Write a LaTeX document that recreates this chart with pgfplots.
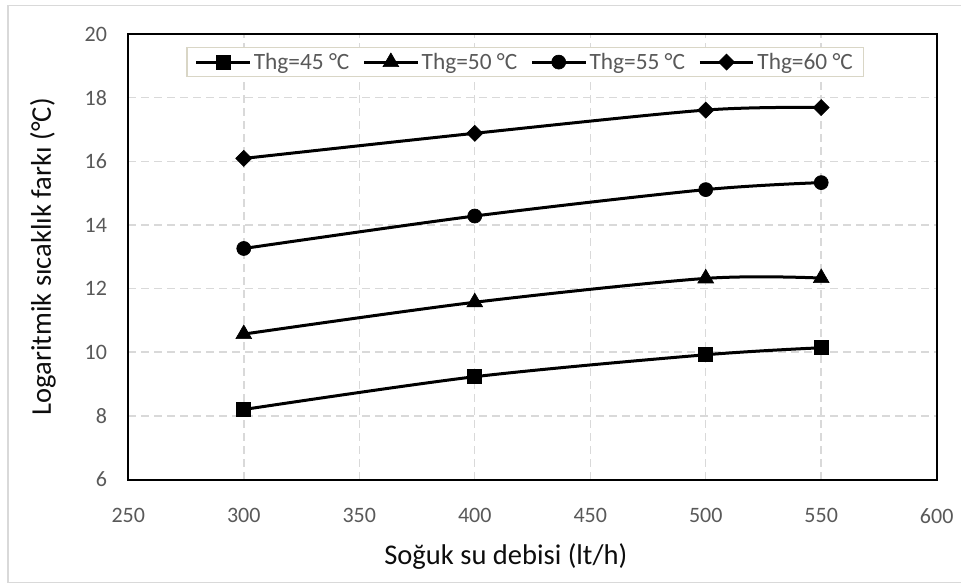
\documentclass[border=0pt]{standalone}
\usepackage{fontspec}
\setmainfont{Carlito}
\usepackage{pgfplots}
\pgfplotsset{compat=1.18}
\definecolor{tickgray}{HTML}{595959}
\definecolor{gridgray}{HTML}{D9D9D9}
\definecolor{legborder}{HTML}{D9D6C6}
\definecolor{labelcol}{HTML}{0D0D0D}
\pgfplotsset{
  legend image code/.code={\draw[mark repeat=2,mark phase=2,#1] plot coordinates {(0pt,0pt) (20pt,0pt) (40pt,0pt)};}
}
\begin{document}
\begin{tikzpicture}
\useasboundingbox (-96.225pt,-77.625pt) rectangle (624.525pt,359.625pt);
\begin{axis}[
  scale only axis,
  width=606.3pt, height=334.125pt,
  xmin=250, xmax=600, ymin=6, ymax=20,
  xtick={250,300,...,600},
  ytick={6,8,...,20},
  major tick length=0pt,
  grid=major,
  major grid style={gridgray, line width=1.1pt, dash pattern=on 6pt off 3.75pt},
  axis line style={black, line width=1.5pt},
  /pgf/number format/assume math mode=true,
  ticklabel style={font=\fontsize{16.5}{20}\selectfont, text=tickgray},
  xticklabel shift=18pt,
  yticklabel shift=12.5pt,
  xlabel={Soğuk su debisi (lt/h)},
  ylabel={Logaritmik sıcaklık farkı (°C)},
  label style={font=\fontsize{21.4}{25}\selectfont, text=labelcol},
  xlabel style={at={(axis description cs:0.467,-0.172)}, anchor=center},
  ylabel style={at={(axis description cs:-0.1055,0.5)}, anchor=center, rotate=0},
  legend columns=4,
  legend style={at={(axis description cs:0.491,0.971)}, anchor=north,
    draw=legborder, line width=1.1pt,
    font=\fontsize{17.5}{20}\selectfont, text=tickgray,
    inner xsep=6pt, inner ysep=2pt,
    /tikz/every even column/.append style={column sep=8pt}},
  myline/.style={black, line width=2.25pt, smooth, tension=0.5},
]
\addplot[myline, mark=square*, mark size=5.25pt, mark options={solid, fill=black, draw=black, line width=0.5pt}] coordinates {(300,8.20) (400,9.23) (500,9.92) (550,10.14)};
\addlegendentry{Thg=45 °C}
\addplot[myline, mark=triangle*, mark size=6.8pt, mark options={solid, fill=black, draw=black, line width=0.5pt}] coordinates {(300,10.57) (400,11.57) (500,12.32) (550,12.33)};
\addlegendentry{Thg=50 °C}
\addplot[myline, mark=*, mark size=5.25pt, mark options={solid, fill=black, draw=black, line width=0.5pt}] coordinates {(300,13.26) (400,14.28) (500,15.11) (550,15.33)};
\addlegendentry{Thg=55 °C}
\addplot[myline, mark=square*, mark size=4.24pt, mark options={solid, fill=black, draw=black, line width=0.5pt, rotate=45}] coordinates {(300,16.09) (400,16.88) (500,17.61) (550,17.69)};
\addlegendentry{Thg=60 °C}
\end{axis}
\draw[gridgray, line width=1.1pt] (-90.2pt,-77.1pt) rectangle (630pt,355.65pt);
\end{tikzpicture}
\end{document}
